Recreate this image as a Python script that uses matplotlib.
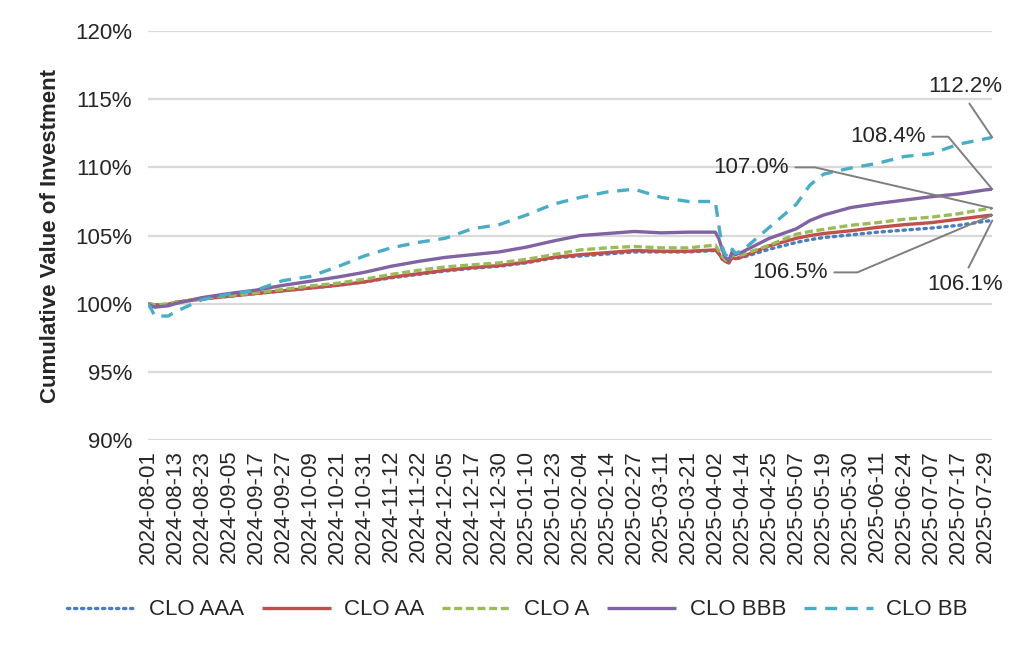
import numpy as np
import pandas as pd
import matplotlib
matplotlib.use("Agg")
import matplotlib.pyplot as plt
from matplotlib.ticker import FuncFormatter, MultipleLocator

plt.rcParams['font.family'] = ['Liberation Sans', 'DejaVu Sans']

# trading calendar (US equity market holidays)
start_date = "2024-08-01"
end_date = "2025-07-31"
holidays = ["2024-09-02", "2024-11-28", "2024-12-25", "2025-01-01", "2025-01-20",
            "2025-02-17", "2025-04-18", "2025-05-26", "2025-06-19", "2025-07-04"]

sample_dates = ["2024-08-01", "2024-08-02", "2024-08-05", "2024-08-09", "2024-08-13", "2024-08-23",
                "2024-09-05", "2024-09-17", "2024-09-27", "2024-10-09", "2024-10-21", "2024-10-31",
                "2024-11-12", "2024-11-22", "2024-12-05", "2024-12-17", "2024-12-30", "2025-01-10",
                "2025-01-23", "2025-02-04", "2025-02-14", "2025-02-27", "2025-03-11", "2025-03-21",
                "2025-04-02", "2025-04-03", "2025-04-04", "2025-04-07", "2025-04-08", "2025-04-09",
                "2025-04-10", "2025-04-14", "2025-04-25", "2025-05-07", "2025-05-13", "2025-05-19",
                "2025-05-30", "2025-06-11", "2025-06-24", "2025-07-07", "2025-07-17", "2025-07-29",
                "2025-07-31"]

clo_aaa = [100.0, 99.95, 99.9, 99.95, 100.1, 100.35,
           100.55, 100.75, 100.95, 101.15, 101.35, 101.6,
           101.9, 102.15, 102.4, 102.6, 102.75, 103.0,
           103.35, 103.5, 103.65, 103.8, 103.8, 103.8,
           103.9, 103.7, 103.3, 103.1, 103.0, 103.4,
           103.3, 103.4, 104.0, 104.5, 104.7, 104.85,
           105.05, 105.25, 105.4, 105.55, 105.75, 106.05,
           106.1]
clo_aa = [100.0, 99.95, 99.9, 99.95, 100.1, 100.35,
          100.55, 100.75, 100.95, 101.15, 101.35, 101.6,
          101.95, 102.2, 102.45, 102.65, 102.8, 103.05,
          103.4, 103.6, 103.75, 103.9, 103.85, 103.85,
          103.95, 103.7, 103.3, 103.1, 103.0, 103.4,
          103.3, 103.45, 104.25, 104.8, 105.0, 105.15,
          105.35, 105.6, 105.8, 105.95, 106.2, 106.45,
          106.5]
clo_a = [100.0, 100.0, 99.9, 100.0, 100.1, 100.4,
         100.6, 100.8, 101.05, 101.3, 101.5, 101.8,
         102.15, 102.45, 102.7, 102.85, 103.0, 103.25,
         103.6, 103.95, 104.1, 104.2, 104.1, 104.1,
         104.3, 103.9, 103.5, 103.2, 103.2, 103.6,
         103.5, 103.6, 104.3, 105.1, 105.3, 105.45,
         105.75, 105.95, 106.2, 106.35, 106.6, 106.95,
         107.0]
clo_bbb = [100.0, 99.85, 99.75, 99.85, 100.0, 100.45,
           100.75, 101.0, 101.35, 101.65, 101.95, 102.3,
           102.75, 103.1, 103.4, 103.6, 103.8, 104.15,
           104.6, 105.0, 105.15, 105.3, 105.2, 105.25,
           105.25, 104.8, 104.0, 103.4, 103.2, 103.8,
           103.6, 103.8, 104.8, 105.5, 106.1, 106.5,
           107.05, 107.35, 107.6, 107.85, 108.05, 108.35,
           108.4]
clo_bb = [100.0, 99.6, 99.1, 99.1, 99.4, 100.3,
          100.7, 101.0, 101.7, 102.0, 102.7, 103.5,
          104.1, 104.5, 104.8, 105.5, 105.8, 106.5,
          107.3, 107.8, 108.2, 108.4, 107.8, 107.5,
          107.5, 105.8, 104.2, 103.6, 103.4, 104.0,
          103.7, 103.9, 105.6, 107.3, 108.7, 109.5,
          109.95, 110.3, 110.8, 111.0, 111.7, 112.1,
          112.2]

series_names = ["CLO AAA", "CLO AA", "CLO A", "CLO BBB", "CLO BB"]
end_labels = ["106.1%", "106.5%", "107.0%", "108.4%", "112.2%"]

colors = ["#4a7ebb", "#c0504d", "#9bbb59", "#8064a2", "#4bacc6"]
styles = [(0, (0.7, 1.4)), "-", (0, (2.4, 1.1)), "-", (0, (3.6, 2.6))]

dates = pd.bdate_range(start_date, end_date, freq="C", holidays=holidays)
x_idx = [dates.get_loc(pd.Timestamp(d)) for d in sample_dates]

fig = plt.figure(figsize=(10.24, 6.53), dpi=100)
ax = fig.add_axes([0.1445, 0.326, 0.8245, 0.6265])

all_series = [clo_aaa, clo_aa, clo_a, clo_bbb, clo_bb]
for vals, name, c, ls in zip(all_series, series_names, colors, styles):
    cap = "round" if name == "CLO AAA" else "butt"
    ax.plot(x_idx, vals, color=c, lw=2.4, linestyle=ls, label=name,
            dash_capstyle=cap, solid_capstyle="butt")

ax.set_xlim(0, len(dates) - 1)
ax.set_ylim(90, 120)
ax.yaxis.set_major_locator(MultipleLocator(5))
ax.yaxis.set_major_formatter(FuncFormatter(lambda v, p: f"{v:.0f}%"))

tick_pos = list(range(0, len(dates), 8))
ax.set_xticks(tick_pos)
ax.set_xticklabels([dates[i].strftime("%Y-%m-%d") for i in tick_pos], rotation=90)

ax.grid(axis="y", color="#d9d9d9", lw=1.6)
ax.set_axisbelow(True)
for s in ["top", "right", "left", "bottom"]:
    ax.spines[s].set_visible(False)
ax.tick_params(length=0, labelsize=16, colors="#262626", pad=7)
ax.tick_params(axis="y", pad=11.5)

ax.set_ylabel("Cumulative Value of Investment", fontsize=16, fontweight="bold",
              color="#262626", labelpad=10)

# end-of-period data labels with leader lines
last = len(dates) - 1
txt_kw = dict(fontsize=16, color="#262626", ha="center", va="center")
lead = dict(arrowstyle="-", color="#7f7f7f", lw=1.4, shrinkA=3, shrinkB=0)

ax.annotate(end_labels[4], xy=(x_idx[-1], clo_bb[-1]), xytext=(242, 115.9),
            arrowprops=dict(lead, relpos=(0.5, 0.0)), **txt_kw)
ax.annotate(end_labels[3], xy=(x_idx[-1], clo_bbb[-1]), xytext=(219, 112.25),
            arrowprops=dict(lead, relpos=(1.0, 0.5),
                            connectionstyle="angle,angleA=0,angleB=130,rad=0"), **txt_kw)
ax.annotate(end_labels[2], xy=(x_idx[-1], clo_a[-1]), xytext=(178.5, 110.0),
            arrowprops=dict(lead, relpos=(1.0, 0.5),
                            connectionstyle="angle,angleA=0,angleB=167,rad=0"), **txt_kw)
ax.annotate(end_labels[1], xy=(x_idx[-1], clo_aa[-1]), xytext=(190, 102.3),
            arrowprops=dict(lead, relpos=(1.0, 0.5),
                            connectionstyle="angle,angleA=0,angleB=203,rad=0"), **txt_kw)
ax.annotate(end_labels[0], xy=(x_idx[-1], clo_aaa[-1]), xytext=(242, 101.4),
            arrowprops=dict(lead, relpos=(0.5, 1.0)), **txt_kw)

fig.legend(loc="center", bbox_to_anchor=(0.505, 0.066), ncol=5, frameon=False,
           fontsize=16, handlelength=3.1, columnspacing=0.8, handletextpad=0.6,
           labelcolor="#262626")

fig.savefig("out.png", dpi=100)
